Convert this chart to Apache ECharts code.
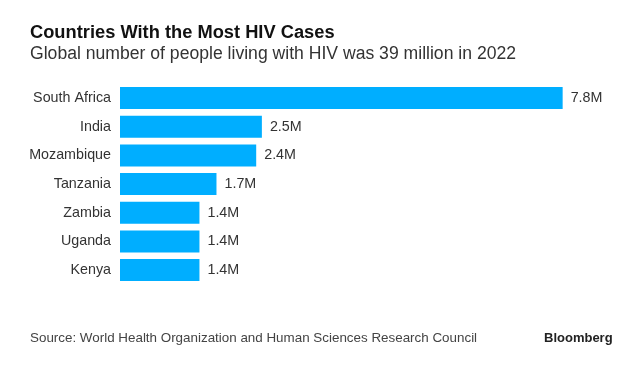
<!DOCTYPE html>
<html>
<head>
<meta charset="utf-8">
<script src="https://cdn.jsdelivr.net/npm/echarts@6/dist/echarts.min.js"></script>
<style>
html,body{margin:0;padding:0;background:#fff;}
#chart{width:642px;height:371px;}
</style>
</head>
<body>
<div id="chart"></div>
<script>
const countries = ["South Africa", "India", "Mozambique", "Tanzania", "Zambia", "Uganda", "Kenya"];
const casesMillions = [7.8, 2.5, 2.4, 1.7, 1.4, 1.4, 1.4];
const valueLabels = ["7.8M", "2.5M", "2.4M", "1.7M", "1.4M", "1.4M", "1.4M"];

const FONT = "'Liberation Sans', Arial, Helvetica, sans-serif";
const chart = echarts.init(document.getElementById('chart'), null, {renderer: 'canvas'});
chart.setOption({
  backgroundColor: '#ffffff',
  animation: false,
  title: [
    {text: 'Countries With the Most HIV Cases', left: 25, top: 19,
     textStyle: {fontFamily: FONT, fontSize: 18.3, fontWeight: 'bold', color: '#111'}},
    {text: 'Global number of people living with HIV was 39 million in 2022', left: 25, top: 40.5,
     textStyle: {fontFamily: FONT, fontSize: 17.6, fontWeight: 'normal', color: '#333'}},
    {text: 'Source: World Health Organization and Human Sciences Research Council', left: 25, top: 327.3,
     textStyle: {fontFamily: FONT, fontSize: 13.4, fontWeight: 'normal', color: '#444'}},
    {text: 'Bloomberg', left: 539, top: 326.7,
     textStyle: {fontFamily: FONT, fontSize: 13, fontWeight: 'bold', color: '#222'}}
  ],
  grid: {left: 120, width: 454, top: 83.7, height: 200.7, containLabel: false},
  xAxis: {type: 'value', min: 0, max: 8, show: false},
  yAxis: {
    type: 'category', data: countries, inverse: true,
    axisLine: {show: false}, axisTick: {show: false}, splitLine: {show: false},
    axisLabel: {fontFamily: FONT, fontSize: 14.3, color: '#333', margin: 9}
  },
  series: [{
    type: 'bar', data: casesMillions, barWidth: 22,
    itemStyle: {color: '#00aeff'},
    label: {show: true, position: 'right', distance: 8,
      fontFamily: FONT, fontSize: 14.3, color: '#333',
      formatter: p => valueLabels[p.dataIndex]}
  }]
});
</script>
</body>
</html>
